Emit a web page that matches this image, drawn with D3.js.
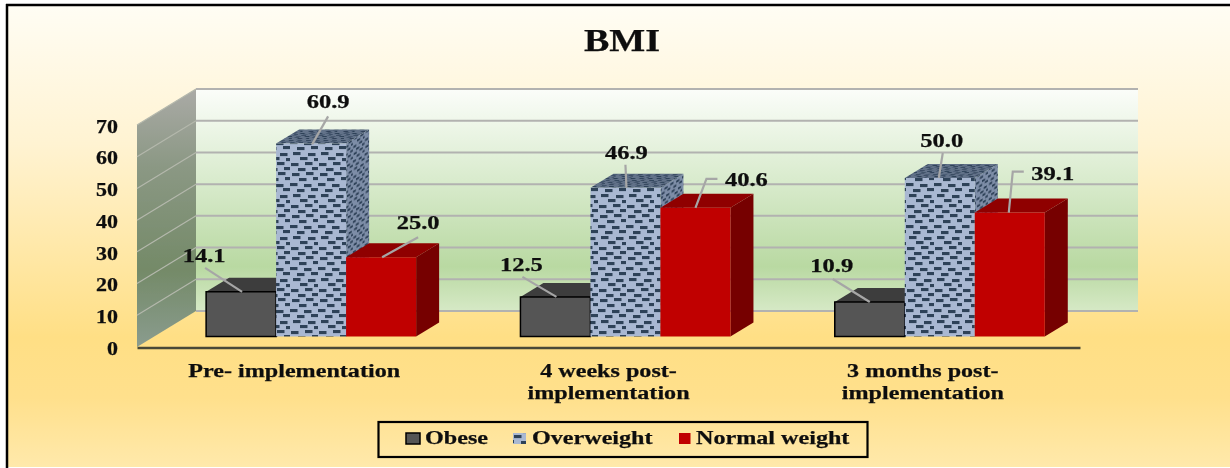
<!DOCTYPE html>
<html>
<head>
<meta charset="utf-8">
<script src="https://cdn.jsdelivr.net/npm/d3@7"></script>
<style>
html, body { margin: 0; padding: 0; background: #fff; }
svg { display: block; }
text { font-family: "Liberation Serif", serif; font-weight: bold; fill: #111; stroke: #111; stroke-width: 0.25px; }
</style>
</head>
<body>
<div id="chart"></div>
<script>
const categories = ["Pre- implementation", "4 weeks post- implementation", "3 months post- implementation"];
const series = ["Obese", "Overweight", "Normal weight"];
const obese = [14.1, 12.5, 10.9];
const overweight = [60.9, 46.9, 50.0];
const normalWeight = [25.0, 40.6, 39.1];
const yTicks = [0, 10, 20, 30, 40, 50, 60, 70];

const w = 1230;
const h = 468;

const values = [obese, overweight, normalWeight];

const svg = d3.select("#chart").append("svg")
    .attr("width", w)
    .attr("height", h);

const defs = svg.append("defs");

const addGradient = (id, stops) => {
    const g = defs.append("linearGradient")
        .attr("id", id)
        .attr("x1", 0).attr("y1", 0).attr("x2", 0).attr("y2", 1);
    stops.forEach(s => g.append("stop").attr("offset", s[0]).attr("stop-color", s[1]));
};
addGradient("bg", [[0, "#fffdf4"], [0.3, "#fff3d2"], [0.72, "#ffdf85"], [0.85, "#ffe08c"], [1, "#ffe9ab"]]);
addGradient("backWall", [[0, "#fbfdfa"], [0.3, "#e2f0d9"], [0.8, "#b9d9a2"], [1, "#d6e9c6"]]);
addGradient("sideWall", [[0, "#aaaaa6"], [0.3, "#8b9884"], [0.7, "#748a68"], [1, "#8a9c8e"]]);

defs.append("filter").attr("id", "soft")
    .attr("x", 0).attr("y", 0).attr("width", 1).attr("height", 1)
    .append("feGaussianBlur").attr("stdDeviation", 0.5);

// brick texture of the overweight bars
const bricks = [
    [2, 1], [16, 0], [9, 6], [23, 5], [0, 11], [14, 12], [7, 17], [21, 16],
    [3, 22], [18, 23], [10, 27], [24, 28], [1, 33], [15, 32], [8, 38], [22, 37]
];
const addPattern = (id, transform, fill) => {
    const p = defs.append("pattern")
        .attr("id", id)
        .attr("patternUnits", "userSpaceOnUse")
        .attr("width", 28).attr("height", 42)
        .attr("patternTransform", transform);
    p.append("rect").attr("width", 28).attr("height", 42).attr("fill", fill);
    p.selectAll("rect.brick").data(bricks).enter().append("rect")
        .attr("class", "brick")
        .attr("x", d => d[0]).attr("y", d => d[1])
        .attr("width", 7.5).attr("height", 3.1)
        .attr("fill", "#2f4259");
};
addPattern("brickFront", "translate(206,4)", "#a9b8d2");
addPattern("brickSide", "matrix(0.42,-0.25,0,0.72,0,0)", "#7d8da7");
addPattern("brickTop", "matrix(0.62,0,-0.55,0.36,0,0)", "#627289");

const x = d3.scaleBand().domain(categories).range([137, 1080]);
const barX = d3.scaleBand().domain(series).range([52, 262]);
const y = d3.scaleLinear().domain([0, 70]).range([347, 125]);
const depthX = d3.scaleLinear().domain([0, 1]).range([0, 59]);
const depthY = d3.scaleLinear().domain([0, 1]).range([0, -36]);
const project = (px, v, d) => [px + depthX(d), y(v) + depthY(d)];

const root = svg.append("g").attr("filter", "url(#soft)");

// the reference letters are wider than the font, so pull them out sideways
const stretch = (sel, k) => sel.each(function () {
    const len = this.getComputedTextLength();
    d3.select(this).attr("textLength", len * k).attr("lengthAdjust", "spacingAndGlyphs");
});

let drawFrame = () => {
    root.append("rect").attr("width", w).attr("height", h).attr("fill", "#fff");
    root.append("rect")
        .attr("x", 7).attr("y", 5).attr("width", w - 7).attr("height", h - 6)
        .attr("fill", "url(#bg)");
    root.append("line").attr("x1", 6).attr("x2", w).attr("y1", 5).attr("y2", 5)
        .attr("stroke", "#000").attr("stroke-width", 2.5);
    root.append("line").attr("x1", 7).attr("x2", 7).attr("y1", 4).attr("y2", h)
        .attr("stroke", "#000").attr("stroke-width", 2.5);
    root.append("text")
        .text("BMI")
        .attr("x", 622).attr("y", 51)
        .attr("text-anchor", "middle")
        .style("font-size", "32px")
        .call(stretch, 1.19);
};

let drawWalls = () => {
    const a = project(137, 0, 1), b = project(137, 70, 1), right = project(1079, 0, 1);
    root.append("rect")
        .attr("x", a[0]).attr("y", b[1])
        .attr("width", right[0] - a[0]).attr("height", a[1] - b[1])
        .attr("fill", "url(#backWall)");
    root.append("polygon")
        .attr("points", [[137, y(0)], [137, y(70)], b, a].join(" "))
        .attr("fill", "url(#sideWall)");
    yTicks.forEach(t => {
        root.append("line")
            .attr("x1", a[0]).attr("x2", right[0])
            .attr("y1", y(t) + depthY(1)).attr("y2", y(t) + depthY(1))
            .attr("stroke", "#b2b2b0").attr("stroke-width", 2);
        if (t > 0) {
            root.append("line")
                .attr("x1", 137).attr("x2", a[0])
                .attr("y1", y(t)).attr("y2", y(t) + depthY(1))
                .attr("stroke", "#b4b8ac").attr("stroke-width", 1.2);
        }
    });
};

let drawAxes = () => {
    const yAxis = d3.axisLeft(y).tickValues(yTicks).tickSize(0).tickPadding(19);
    const gy = root.append("g").attr("transform", "translate(137,1.5)").call(yAxis);
    gy.select(".domain").remove();
    gy.selectAll("text")
        .style("font-size", "18px")
        .style("font-family", "'Liberation Serif', serif")
        .call(stretch, 1.22);

    const xAxis = d3.axisBottom(x).tickSize(0).tickPadding(0);
    const gx = root.append("g").attr("transform", "translate(0,347.5)").call(xAxis);
    gx.select(".domain").attr("stroke", "#4a4a38").attr("stroke-width", 2.4);
    gx.selectAll("text").each(function (d) {
        const parts = d.endsWith("post- implementation")
            ? [d.replace(" implementation", ""), "implementation"]
            : [d];
        const t = d3.select(this).text(null).attr("y", 0).attr("dy", null)
            .style("font-size", "18px")
            .style("font-family", "'Liberation Serif', serif");
        parts.forEach((s, i) => {
            t.append("tspan").attr("x", 0).attr("y", 29.5 + i * 22).text(s);
        });
        t.selectAll("tspan").call(stretch, 1.34);
    });
};

let drawBars = () => {
    const front = 0.29, back = 0.68;
    const faces = [
        { front: "#555555", top: "#3c3c3c", side: "#333333", stroke: "#000" },
        { front: "url(#brickFront)", top: "url(#brickTop)", side: "url(#brickSide)", stroke: "none" },
        { front: "#c00000", top: "#8f0000", side: "#760000", stroke: "none" }
    ];
    categories.forEach(cat => {
        const g = root.append("g");
        series.forEach((name, s) => {
            const v = values[s][categories.indexOf(cat)];
            const x0 = x(cat) + barX(name);
            const x1 = x0 + barX.bandwidth();
            const poly = (pts, fill) => g.append("polygon")
                .attr("points", pts.join(" "))
                .attr("fill", fill);
            poly([project(x1, 0, front), project(x1, v, front), project(x1, v, back), project(x1, 0, back)], faces[s].side);
            poly([project(x0, v, front), project(x1, v, front), project(x1, v, back), project(x0, v, back)], faces[s].top);
            poly([project(x0, 0, front), project(x1, 0, front), project(x1, v, front), project(x0, v, front)], faces[s].front)
                .attr("stroke", faces[s].stroke)
                .attr("stroke-width", 1.5);
        });
    });
};

let drawLabels = () => {
    // leader bends and text spot, relative to the middle of each bar's front top edge
    const leaders = [
        [{ l: [[1, 0], [-36, -24]], t: [-37, -30] }, { l: [[1, 1], [17, -27]], t: [17, -35] }, { l: [[1, 0], [37, -20]], t: [37, -28] }],
        [{ l: [[1, 0], [-33, -20]], t: [-34, -26] }, { l: [[1, 0], [0, -23]], t: [1, -29] }, { l: [[0, 0], [11, -29], [22, -29]], t: [51, -22] }],
        [{ l: [[0, 0], [-37, -23]], t: [-38, -30] }, { l: [[-1, 0], [3, -25]], t: [2, -31] }, { l: [[-1, 0], [3, -41], [14, -41]], t: [43, -33] }]
    ];
    categories.forEach((cat, c) => {
        series.forEach((name, s) => {
            const v = values[s][c];
            const a = project(x(cat) + barX(name) + barX.bandwidth() / 2, v, 0.29);
            const line = d3.line().x(d => a[0] + d[0]).y(d => a[1] + d[1]);
            root.append("path")
                .attr("d", line(leaders[c][s].l))
                .attr("fill", "none")
                .attr("stroke", "#a6a6a6")
                .attr("stroke-width", 2.2);
            root.append("text")
                .text(v.toFixed(1))
                .attr("x", a[0] + leaders[c][s].t[0])
                .attr("y", a[1] + leaders[c][s].t[1])
                .attr("text-anchor", "middle")
                .style("font-size", "18px")
                .call(stretch, 1.36);
        });
    });
};

let drawLegend = () => {
    root.append("rect")
        .attr("x", 378.5).attr("y", 422).attr("width", 489).attr("height", 35)
        .attr("fill", "none").attr("stroke", "#000").attr("stroke-width", 2.2);
    const slots = [
        { sx: 406, sw: 14, tx: 425, fill: "#555555", stroke: "#000" },
        { sx: 513, sw: 13, tx: 532, fill: "url(#brickFront)", stroke: "none" },
        { sx: 679, sw: 11.5, tx: 696, fill: "#c00000", stroke: "none" }
    ];
    series.forEach((name, i) => {
        root.append("rect")
            .attr("x", slots[i].sx).attr("y", 433)
            .attr("width", slots[i].sw).attr("height", 11)
            .attr("fill", slots[i].fill)
            .attr("stroke", slots[i].stroke)
            .attr("stroke-width", 1.5);
        root.append("text")
            .text(name)
            .attr("x", slots[i].tx).attr("y", 444)
            .style("font-size", "18px")
            .call(stretch, 1.34);
    });
};

drawFrame();
drawWalls();
drawAxes();
drawBars();
drawLabels();
drawLegend();
</script>
</body>
</html>
